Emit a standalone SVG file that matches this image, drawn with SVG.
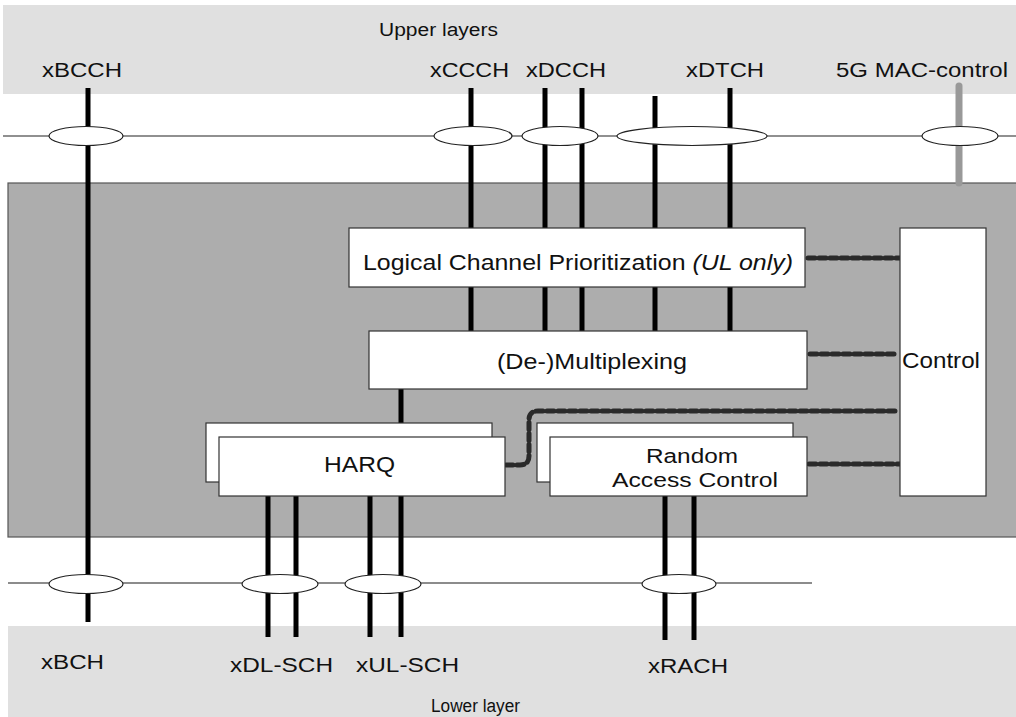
<svg xmlns="http://www.w3.org/2000/svg" width="1016" height="717" viewBox="0 0 1016 717">
<style>
text{font-family:"Liberation Sans",Arial,sans-serif;fill:#111}
.lbl{font-size:20px}
.lay{font-size:18px}
.bt{font-size:21.5px}
.bs{font-size:20px}
.box{fill:#fff;stroke:#333;stroke-width:1.2}
.ch{stroke:#000;stroke-width:5;fill:none}
.ell{fill:#fff;stroke:#222;stroke-width:1.2}
.dot{stroke:#2a2a2a;stroke-width:5;fill:none;stroke-dasharray:7 4;stroke-linecap:round;stroke-linejoin:round}
</style>
<rect x="3" y="5" width="1013" height="89" fill="#e0e0e0"/>
<rect x="8" y="626" width="1008" height="91" fill="#e0e0e0"/>
<rect x="8" y="183" width="1010" height="354" fill="#adadad" stroke="#555" stroke-width="1.2"/>
<text class="lay" x="379" y="36" textLength="119" lengthAdjust="spacingAndGlyphs">Upper layers</text>
<text class="lbl" x="42" y="77" textLength="80" lengthAdjust="spacingAndGlyphs">xBCCH</text>
<text class="lbl" x="430" y="77" textLength="79" lengthAdjust="spacingAndGlyphs">xCCCH</text>
<text class="lbl" x="526" y="77" textLength="80" lengthAdjust="spacingAndGlyphs">xDCCH</text>
<text class="lbl" x="686" y="77" textLength="78" lengthAdjust="spacingAndGlyphs">xDTCH</text>
<text class="lbl" x="836" y="77" textLength="172" lengthAdjust="spacingAndGlyphs">5G MAC-control</text>
<text class="lbl" x="41" y="669" textLength="63" lengthAdjust="spacingAndGlyphs">xBCH</text>
<text class="lbl" x="230" y="672" textLength="103" lengthAdjust="spacingAndGlyphs">xDL-SCH</text>
<text class="lbl" x="356" y="672" textLength="103" lengthAdjust="spacingAndGlyphs">xUL-SCH</text>
<text class="lbl" x="648" y="673" textLength="80" lengthAdjust="spacingAndGlyphs">xRACH</text>
<text class="lay" x="431" y="712" textLength="89" lengthAdjust="spacingAndGlyphs">Lower layer</text>
<line x1="3" y1="136" x2="1016" y2="136" stroke="#222" stroke-width="1.2"/>
<line x1="8" y1="583" x2="812" y2="583" stroke="#666" stroke-width="1.5"/>
<g id="connectors">
<line class="ch" x1="88" y1="88" x2="88" y2="622"/>
<line x1="959" y1="86" x2="959" y2="183" stroke="#999" stroke-width="7" stroke-linecap="round"/>
<path class="ch" d="M471 88V228M545 88V228M582 88V228M655 96V228M730 88V228"/>
<path class="ch" d="M471 287V331M545 287V331M582 287V331M655 287V331M730 287V331"/>
<path class="ch" d="M401 389V423"/>
<path class="ch" d="M268 496V637M296 496V637M370 496V637M401 496V637M665 496V640M694 496V640"/>
<path class="dot" d="M808 258H900"/>
<path class="dot" d="M810 354H897"/>
<path class="dot" d="M506 465H520Q529 465 529 456V420Q529 411 538 411H897"/>
<path class="dot" d="M809 464H900"/>
</g>
<g id="ellipses">
<ellipse class="ell" cx="86" cy="136" rx="37" ry="9.5"/>
<ellipse class="ell" cx="473" cy="136" rx="39" ry="9.5"/>
<ellipse class="ell" cx="560" cy="136" rx="38" ry="9.5"/>
<ellipse class="ell" cx="692" cy="136" rx="75" ry="9.5"/>
<ellipse class="ell" cx="960" cy="136" rx="38" ry="9.5"/>
<ellipse class="ell" cx="86" cy="584" rx="37" ry="9.5"/>
<ellipse class="ell" cx="280" cy="584" rx="38" ry="9.5"/>
<ellipse class="ell" cx="383" cy="584" rx="38" ry="9.5"/>
<ellipse class="ell" cx="679" cy="584" rx="37" ry="9.5"/>
</g>
<g id="lcp">
<rect class="box" x="349" y="228" width="456" height="59"/>
<text class="bt" x="363" y="270" textLength="430" lengthAdjust="spacingAndGlyphs">Logical Channel Prioritization <tspan font-style="italic">(UL only)</tspan></text>
</g>
<g id="mux">
<rect class="box" x="369" y="331" width="438" height="58"/>
<text class="bt" x="497" y="369" textLength="190" lengthAdjust="spacingAndGlyphs">(De-)Multiplexing</text>
</g>
<g id="control">
<rect class="box" x="900" y="228" width="86" height="268"/>
<text class="bt" x="902" y="368" textLength="78" lengthAdjust="spacingAndGlyphs">Control</text>
</g>
<g id="harq">
<rect class="box" x="206" y="423" width="286" height="59"/>
<rect class="box" x="219" y="437" width="286" height="59"/>
<text class="bt" x="324" y="472" textLength="71" lengthAdjust="spacingAndGlyphs">HARQ</text>
</g>
<g id="rac">
<rect class="box" x="537" y="423" width="256" height="59"/>
<rect class="box" x="550" y="437" width="257" height="59"/>
<text class="bs" x="646" y="463" textLength="92" lengthAdjust="spacingAndGlyphs">Random</text>
<text class="bs" x="612" y="487" textLength="166" lengthAdjust="spacingAndGlyphs">Access Control</text>
</g>
</svg>
